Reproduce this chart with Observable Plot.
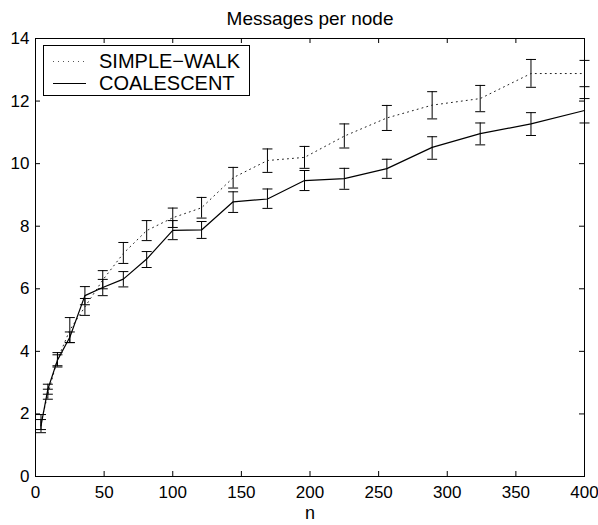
<!DOCTYPE html>
<html>
<head>
<meta charset="utf-8">
<script src="https://cdn.jsdelivr.net/npm/d3@7"></script>
<script src="https://cdn.jsdelivr.net/npm/@observablehq/plot@0.6"></script>
<style>
  html, body { margin: 0; padding: 0; background: white; }
  #wrap { position: relative; width: 598px; height: 525px; font-family: "Liberation Sans", Arial, Helvetica, sans-serif; }
  #legend { position: absolute; left: 43px; top: 45px; width: 207px; height: 51px; border: 1px solid black; background: white; box-sizing: border-box; }
  .row { position: absolute; left: 0; height: 24px; display: flex; align-items: center; font-size: 20px; line-height: 1; }
  .row svg { margin-left: 9px; margin-right: 13px; }
</style>
</head>
<body>
<div id="wrap"></div>
<script>
const title = "Messages per node";
const xLabel = "n";
const seriesNames = ["SIMPLE\u2212WALK", "COALESCENT"];
const nValues = [4, 9, 16, 25, 36, 49, 64, 81, 100, 121, 144, 169, 196, 225, 256, 289, 324, 361, 400];
const walkMean = [1.72, 2.63, 3.74, 4.68, 5.42, 6.28, 7.13, 7.86, 8.27, 8.59, 9.55, 10.1, 10.2, 10.88, 11.46, 11.87, 12.08, 12.88, 12.88];
const walkLow  = [1.50, 2.47, 3.54, 4.28, 5.15, 6.00, 6.81, 7.54, 7.96, 8.26, 9.22, 9.72, 9.85, 10.50, 11.06, 11.43, 11.66, 12.44, 12.46];
const walkHigh = [1.98, 2.79, 3.96, 5.08, 5.69, 6.58, 7.48, 8.18, 8.58, 8.92, 9.88, 10.47, 10.55, 11.27, 11.86, 12.30, 12.50, 13.33, 13.30];
const coalMean = [1.62, 2.79, 3.72, 4.45, 5.78, 6.04, 6.31, 6.95, 7.87, 7.88, 8.78, 8.87, 9.46, 9.52, 9.84, 10.52, 10.96, 11.27, 11.70];
const coalLow  = [1.40, 2.63, 3.50, 4.28, 5.49, 5.78, 6.06, 6.68, 7.57, 7.61, 8.44, 8.57, 9.14, 9.18, 9.53, 10.14, 10.60, 10.90, 11.30];
const coalHigh = [1.82, 2.95, 3.89, 4.62, 6.07, 6.30, 6.55, 7.19, 8.18, 8.15, 9.10, 9.19, 9.78, 9.85, 10.14, 10.86, 11.30, 11.63, 12.08];
const xTicks = [0, 50, 100, 150, 200, 250, 300, 350, 400];
const yTicks = [0, 2, 4, 6, 8, 10, 12, 14];

const walk = nValues.map((n, i) => ({n, mean: walkMean[i], lo: walkLow[i], hi: walkHigh[i]}));
const coal = nValues.map((n, i) => ({n, mean: coalMean[i], lo: coalLow[i], hi: coalHigh[i]}));
const bars = walk.concat(coal);

const W = 598, H = 525, mL = 35, mR = 14, mT = 38, mB = 49;
const fw = W - mL - mR, fh = H - mT - mB, tk = 5;
const font = "Liberation Sans, Arial, Helvetica, sans-serif";

const cap = {draw(ctx, size) { const r = Math.sqrt(size / Math.PI); ctx.moveTo(-r, 0); ctx.lineTo(r, 0); }};

const chart = Plot.plot({
  width: W, height: H,
  marginLeft: mL, marginRight: mR, marginTop: mT, marginBottom: mB,
  style: {fontFamily: font, fontSize: "17px", background: "white", color: "black"},
  x: {domain: [0, 400]},
  y: {domain: [0, 14]},
  marks: [
    Plot.ruleX(bars, {x: "n", y1: "lo", y2: "hi", stroke: "black", strokeWidth: 1}),
    Plot.dot(bars, {x: "n", y: "lo", symbol: cap, r: 5, stroke: "black", fill: "none", strokeWidth: 1}),
    Plot.dot(bars, {x: "n", y: "hi", symbol: cap, r: 5, stroke: "black", fill: "none", strokeWidth: 1}),
    Plot.line(walk, {x: "n", y: "mean", stroke: "#222", strokeWidth: 1, strokeDasharray: "1,4"}),
    Plot.line(coal, {x: "n", y: "mean", stroke: "black", strokeWidth: 1.2}),
    Plot.tickX(xTicks, {x: d => d, insetTop: fh - tk, stroke: "black"}),
    Plot.tickX(xTicks, {x: d => d, insetBottom: fh - tk, stroke: "black"}),
    Plot.tickY(yTicks, {y: d => d, insetRight: fw - tk, stroke: "black"}),
    Plot.tickY(yTicks, {y: d => d, insetLeft: fw - tk, stroke: "black"}),
    Plot.frame({stroke: "black", strokeWidth: 1}),
    Plot.axisX(xTicks, {tickSize: 0, tickPadding: 9, label: null, fontSize: 17}),
    Plot.axisY(yTicks, {tickSize: 0, tickPadding: 6, label: null, fontSize: 17}),
    Plot.text([title], {frameAnchor: "top", lineAnchor: "bottom", dy: -14, fontSize: 19, fill: "black"}),
    Plot.text([xLabel], {frameAnchor: "bottom", lineAnchor: "top", dy: 30, fontSize: 18, fill: "black"})
  ]
});

const wrap = document.getElementById("wrap");
wrap.appendChild(chart);

const legend = document.createElement("div");
legend.id = "legend";
const styles = [{dash: "1,4", stroke: "#555"}, {dash: null, stroke: "black"}];
seriesNames.forEach((name, i) => {
  const row = document.createElement("div");
  row.className = "row";
  row.style.top = (3 + i * 22) + "px";
  const s = d3.create("svg").attr("width", 33).attr("height", 10);
  s.append("line").attr("x1", 0).attr("x2", 33).attr("y1", 5.5).attr("y2", 5.5)
    .attr("stroke", styles[i].stroke).attr("stroke-width", 1)
    .attr("stroke-dasharray", styles[i].dash);
  row.appendChild(s.node());
  const t = document.createElement("span");
  t.textContent = name;
  row.appendChild(t);
  legend.appendChild(row);
});
wrap.appendChild(legend);
</script>
</body>
</html>
